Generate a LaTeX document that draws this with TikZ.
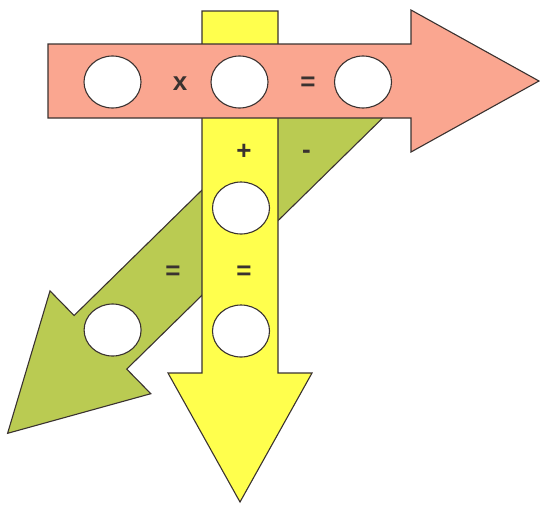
\documentclass[tikz,border=0pt]{standalone}
\usepackage{fontspec}
\setmainfont{Liberation Sans}
\usetikzlibrary{shapes.geometric}
\definecolor{salmon}{HTML}{FAA690}
\definecolor{lemon}{HTML}{FFFF4D}
\definecolor{olive}{HTML}{BACB52}
\definecolor{edge}{HTML}{3A3230}
\tikzset{
  arrowbody/.style={draw=edge, line width=1.1pt, line join=miter},
  hole/.style={ellipse, draw=edge, line width=1.1pt, fill=white, minimum width=57pt, minimum height=52pt, inner sep=0pt},
  sign/.style={text=edge, font=\fontsize{26}{26}\selectfont\bfseries, inner sep=0pt}
}
\begin{document}
\begin{tikzpicture}[x=1pt,y=-1pt]
\useasboundingbox (0,0) rectangle (540,504);
% green diagonal arrow (bottom layer)
\path[arrowbody, fill=olive] (341.5,53.2) -- (74.1,315.5) -- (50,290.9) -- (7.6,433.3) -- (150.8,393.7) -- (126.7,369.1) -- (394.1,106.8) -- cycle;
% yellow downward arrow
\path[arrowbody, fill=lemon] (202,11) -- (278,11) -- (278,373) -- (312,373) -- (240,502) -- (168,373) -- (202,373) -- cycle;
% salmon rightward arrow (top layer)
\path[arrowbody, fill=salmon] (48,44) -- (411,44) -- (411,10) -- (539,81) -- (411,152) -- (411,118) -- (48,118) -- cycle;
% holes
\node[hole] (r1) at (112.5,82) {};
\node[hole] (r2) at (239.5,82) {};
\node[hole] (r3) at (363,82) {};
\node[hole] (y1) at (241,208) {};
\node[hole] (y2) at (241,331) {};
\node[hole] (g1) at (112.6,330) {};
% signs
\node[sign] (times) at (180,84) {x};
\node[sign] (eqr) at (308,84) {=};
\node[sign] (plus) at (244,152) {+};
\node[sign] (eqy) at (244,273) {=};
\node[sign] (minus) at (306.5,154) {-};
\node[sign] (eqg) at (173,273) {=};
\end{tikzpicture}
\end{document}
